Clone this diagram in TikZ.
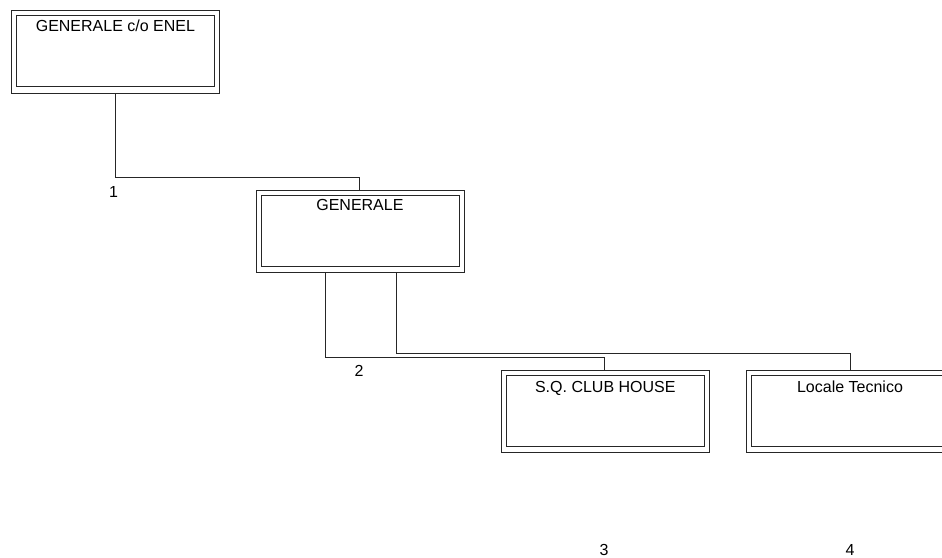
\documentclass[tikz,border=0pt]{standalone}
\usepackage{fontspec}
\setmainfont{Liberation Sans}
\begin{document}
\begin{tikzpicture}[x=1pt,y=-1pt,
  outerbox/.style={draw=black!85, line width=0.7pt, minimum width=208pt, minimum height=82.5pt, inner sep=0pt},
  innerbox/.style={draw=black!85, line width=0.7pt, minimum width=198pt, minimum height=71pt, inner sep=0pt},
  txt/.style={anchor=base, inner sep=0pt, font=\fontsize{16}{19}\selectfont},
  conn/.style={draw=black!85, line width=0.7pt}]
\useasboundingbox (0,0) rectangle (942,557);
\node[outerbox] (b1) at (115.4,51.7) {};
\node[innerbox] (i1) at ([yshift=0.7pt]b1.center) {};
\node[outerbox] (b2) at (359.9,231.4) {};
\node[innerbox] (i2) at ([yshift=0.7pt]b2.center) {};
\node[outerbox] (b3) at (605.3,411.5) {};
\node[innerbox] (i3) at ([yshift=0.7pt]b3.center) {};
\node[outerbox] (b4) at (850,411.5) {};
\node[innerbox] (i4) at ([yshift=0.7pt]b4.center) {};
\node[txt] (t1) at ([yshift=-21.6pt]b1.north) {GENERALE c/o ENEL};
\node[txt] (t2) at ([yshift=-21pt]b2.north) {GENERALE};
\node[txt] (t3) at ([yshift=-23pt]b3.north) {S.Q. CLUB HOUSE};
\node[txt] (t4) at ([yshift=-23pt]b4.north) {Locale Tecnico};
\draw[conn] (b1.south) -- ++(0,84) -| ([xshift=-0.9pt]b2.north);
\draw[conn] ([xshift=-35pt]b2.south) |- ([xshift=-1pt,yshift=13pt]b3.north) -- ([xshift=-1pt]b3.north);
\draw[conn] ([xshift=36pt]b2.south) |- ([yshift=17pt]b4.north) -- (b4.north);
\node[txt, anchor=center] (n1) at (113.5,191.5) {1};
\node[txt, anchor=center] (n2) at (359,370.5) {2};
\node[txt, anchor=center] (n3) at (604,549.5) {3};
\node[txt, anchor=center] (n4) at (850,549.5) {4};
\end{tikzpicture}
\end{document}
